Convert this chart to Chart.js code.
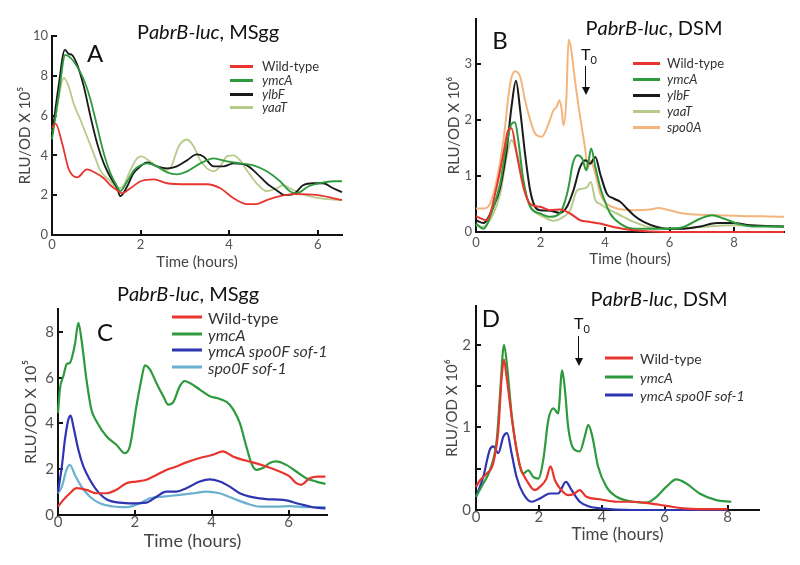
<!DOCTYPE html>
<html>
<head>
<meta charset="utf-8">
<script src="https://cdn.jsdelivr.net/npm/chart.js@4.4.1/dist/chart.umd.min.js"></script>
<style>
  html, body { margin: 0; padding: 0; background: #fff; }
  #fig { position: relative; width: 800px; height: 565px; overflow: hidden; font-family: Lato, 'Open Sans', sans-serif; }
  canvas { position: absolute; }
  .txt { position: absolute; white-space: nowrap; transform: translate(-50%, -50%); color: #111; }
  .row { position: absolute; white-space: nowrap; display: flex; align-items: center; transform: translateY(-50%); color: #333; }
  .sw { display: inline-block; height: 3px; }
  .arrow { position: absolute; width: 0; border-left: 1.6px solid #111; }
  .head { position: absolute; width: 0; height: 0; border-left: 4px solid transparent; border-right: 4px solid transparent; border-top: 8px solid #111; }
</style>
</head>
<body>
<div id="fig">
  <canvas id="cA" width="400" height="280" style="left:0;top:0"></canvas>
  <canvas id="cB" width="400" height="280" style="left:400px;top:0"></canvas>
  <canvas id="cC" width="400" height="285" style="left:0;top:280px"></canvas>
  <canvas id="cD" width="400" height="285" style="left:400px;top:280px"></canvas>
</div>
<script>
// ── colours ──────────────────────────────────────────────────────────────────
const RED = '#e8352e', GREEN = '#2e9a3e', BLACK = '#1a1a1a', OLIVE = '#b7cc8c',
      PEACH = '#f4b57c', BLUE = '#2f35b0', LBLUE = '#6bb0cf';

// ── Panel A: PabrB-luc, MSgg ─────────────────────────────────────────────────
const A_T_WT = [0, 0.08, 0.23, 0.38, 0.57, 0.79, 1.0, 1.17, 1.32, 1.47, 1.58, 1.77, 2.0, 2.3, 2.6, 3.05, 3.5, 3.8, 4.1, 4.4, 4.6, 4.85, 5.15, 5.45, 6.0, 6.55];
const A_WT   = [5.4, 5.6, 4.6, 3.3, 2.9, 3.3, 3.1, 2.85, 2.5, 2.25, 2.1, 2.35, 2.7, 2.8, 2.6, 2.55, 2.55, 2.35, 1.85, 1.55, 1.55, 1.75, 1.95, 2.05, 2.0, 1.75];
const A_T_YMCA = [0, 0.15, 0.3, 0.42, 0.57, 0.72, 0.87, 1.02, 1.17, 1.32, 1.47, 1.54, 1.7, 1.85, 2.0, 2.15, 2.37, 2.6, 2.82, 3.05, 3.35, 3.65, 3.95, 4.25, 4.55, 4.85, 5.15, 5.37, 5.52, 5.8, 6.05, 6.35, 6.55];
const A_YMCA   = [4.8, 7.0, 9.05, 8.9, 8.45, 7.8, 6.8, 5.45, 4.1, 3.1, 2.45, 2.2, 2.7, 3.25, 3.5, 3.6, 3.45, 3.15, 3.05, 3.2, 3.6, 3.85, 3.7, 3.6, 3.5, 3.2, 2.7, 2.2, 2.1, 2.45, 2.6, 2.7, 2.7];
const A_T_YLBF = [0, 0.15, 0.29, 0.38, 0.45, 0.57, 0.72, 0.87, 1.02, 1.17, 1.32, 1.47, 1.54, 1.7, 1.84, 2.0, 2.15, 2.37, 2.6, 2.82, 3.05, 3.27, 3.42, 3.65, 3.87, 4.1, 4.4, 4.62, 4.85, 5.07, 5.26, 5.45, 5.67, 5.9, 6.12, 6.35, 6.55];
const A_YLBF   = [5.0, 7.5, 9.3, 9.1, 9.05, 8.55, 7.45, 5.95, 4.6, 3.6, 2.9, 2.35, 1.95, 2.45, 3.1, 3.45, 3.65, 3.45, 3.35, 3.45, 3.75, 4.05, 3.95, 3.45, 3.45, 3.6, 3.5, 3.1, 2.6, 2.25, 2.0, 2.05, 2.5, 2.6, 2.6, 2.35, 2.15];
const A_T_YAAT = [0, 0.05, 0.27, 0.38, 0.49, 0.64, 0.79, 0.94, 1.09, 1.32, 1.5, 1.62, 1.77, 1.92, 2.03, 2.18, 2.37, 2.52, 2.67, 2.86, 3.05, 3.2, 3.35, 3.5, 3.65, 3.8, 3.95, 4.1, 4.25, 4.4, 4.62, 4.85, 5.07, 5.22, 5.37, 5.6, 5.9, 6.2, 6.55];
const A_YAAT   = [5.2, 5.6, 7.9, 7.45, 6.6, 5.8, 4.95, 4.1, 3.25, 2.7, 2.35, 2.5, 3.25, 3.85, 3.95, 3.75, 3.45, 3.25, 3.35, 4.45, 4.8, 4.45, 3.75, 3.35, 3.2, 3.45, 3.95, 4.0, 3.75, 3.25, 2.6, 2.2, 2.35, 2.5, 2.35, 2.1, 1.9, 1.8, 1.75];
const A_X_TICKS = [0, 2, 4, 6];
const A_Y_TICKS = [0, 2, 4, 6, 8, 10];

// ── Panel B: PabrB-luc, DSM ──────────────────────────────────────────────────
const B_T_WT = [0, 0.33, 0.64, 0.85, 1.0, 1.1, 1.26, 1.47, 1.68, 1.99, 2.3, 2.6, 2.92, 3.23, 3.54, 3.85, 4.26, 4.89, 5.9, 9.55];
const B_WT   = [0.28, 0.21, 0.8, 1.4, 1.82, 1.85, 1.4, 0.8, 0.5, 0.45, 0.39, 0.4, 0.33, 0.21, 0.18, 0.15, 0.09, 0.03, 0.0, 0.0];
const B_T_YMCA = [0, 0.23, 0.54, 0.75, 0.95, 1.1, 1.21, 1.31, 1.47, 1.68, 1.99, 2.3, 2.6, 2.76, 2.87, 3.0, 3.15, 3.3, 3.42, 3.5, 3.57, 3.7, 3.85, 3.95, 4.16, 4.47, 4.89, 5.92, 6.44, 6.96, 7.32, 7.68, 8.1, 8.6, 9.55];
const B_YMCA   = [0.15, 0.06, 0.45, 0.86, 1.58, 1.93, 1.96, 1.64, 0.92, 0.45, 0.33, 0.27, 0.33, 0.55, 0.8, 1.22, 1.37, 1.3, 1.1, 1.3, 1.49, 1.16, 0.8, 0.62, 0.33, 0.15, 0.06, 0.06, 0.09, 0.24, 0.3, 0.24, 0.15, 0.1, 0.1];
const B_T_YLBF = [0, 0.23, 0.54, 0.75, 0.95, 1.1, 1.24, 1.37, 1.52, 1.68, 1.83, 1.99, 2.3, 2.6, 2.82, 3.02, 3.23, 3.39, 3.54, 3.7, 3.85, 4.06, 4.26, 4.47, 4.68, 4.89, 5.2, 5.61, 5.92, 6.44, 6.96, 7.47, 7.99, 8.5, 9.55];
const B_YLBF   = [0.21, 0.16, 0.45, 0.8, 1.46, 2.23, 2.7, 2.17, 1.4, 0.74, 0.45, 0.39, 0.38, 0.34, 0.45, 0.74, 1.16, 1.28, 1.22, 1.34, 1.04, 0.68, 0.6, 0.54, 0.42, 0.3, 0.18, 0.09, 0.06, 0.06, 0.1, 0.16, 0.16, 0.12, 0.1];
const B_T_YAAT = [0, 0.23, 0.54, 0.75, 0.95, 1.1, 1.21, 1.37, 1.57, 1.78, 2.09, 2.4, 2.71, 2.92, 3.13, 3.28, 3.44, 3.56, 3.7, 3.85, 4.06, 4.37, 4.89, 5.5, 5.92, 6.96, 7.99, 9.55];
const B_YAAT   = [0.12, 0.09, 0.33, 0.68, 1.34, 1.64, 1.52, 1.16, 0.62, 0.39, 0.27, 0.2, 0.27, 0.39, 0.74, 0.77, 0.8, 0.89, 0.57, 0.5, 0.42, 0.33, 0.18, 0.07, 0.06, 0.09, 0.12, 0.1];
const B_T_SPO0A = [0, 0.23, 0.43, 0.64, 0.85, 1.06, 1.21, 1.37, 1.52, 1.68, 1.83, 2.04, 2.25, 2.4, 2.5, 2.59, 2.66, 2.71, 2.8, 2.87, 2.94, 3.07, 3.23, 3.39, 3.46, 3.54, 3.7, 3.85, 4.06, 4.37, 4.89, 5.4, 5.66, 5.92, 6.44, 7.47, 9.55];
const B_SPO0A   = [0.42, 0.42, 0.5, 0.92, 1.64, 2.65, 2.87, 2.77, 2.35, 2.0, 1.76, 1.7, 1.93, 2.17, 2.23, 2.35, 2.17, 1.9, 2.35, 3.43, 3.3, 2.7, 2.05, 1.46, 1.13, 1.28, 1.04, 0.68, 0.5, 0.42, 0.39, 0.4, 0.43, 0.4, 0.33, 0.3, 0.27];
const B_X_TICKS = [0, 2, 4, 6, 8];
const B_Y_TICKS = [0, 1, 2, 3];

// ── Panel C: PabrB-luc, MSgg ─────────────────────────────────────────────────
const C_T_WT = [0, 0.14, 0.31, 0.48, 0.74, 1.0, 1.26, 1.52, 1.78, 2.04, 2.3, 2.56, 2.82, 3.08, 3.34, 3.69, 4.03, 4.29, 4.55, 4.81, 5.07, 5.42, 5.77, 6.03, 6.2, 6.33, 6.55, 6.76, 6.96];
const C_WT   = [0.37, 0.66, 0.95, 1.17, 1.1, 0.95, 0.95, 1.1, 1.39, 1.46, 1.54, 1.75, 1.97, 2.12, 2.3, 2.49, 2.63, 2.78, 2.56, 2.41, 2.3, 2.12, 1.9, 1.68, 1.39, 1.32, 1.61, 1.68, 1.68];
const C_T_YMCA = [0, 0.05, 0.14, 0.23, 0.31, 0.44, 0.53, 0.61, 0.74, 0.87, 1.0, 1.26, 1.52, 1.74, 1.87, 2.04, 2.17, 2.26, 2.39, 2.56, 2.74, 2.87, 3.0, 3.17, 3.3, 3.43, 3.69, 3.95, 4.21, 4.47, 4.73, 4.9, 5.03, 5.16, 5.33, 5.51, 5.68, 5.94, 6.2, 6.46, 6.72, 6.96];
const C_YMCA   = [4.46, 5.5, 6.07, 6.6, 6.65, 7.46, 8.4, 7.68, 5.92, 4.6, 4.1, 3.44, 3.07, 2.7, 3.0, 4.75, 5.92, 6.54, 6.36, 5.77, 5.19, 4.82, 4.93, 5.63, 5.85, 5.77, 5.48, 5.19, 5.07, 4.82, 4.02, 3.0, 2.27, 1.97, 2.05, 2.27, 2.34, 2.19, 1.9, 1.61, 1.46, 1.36];
const C_T_DBL = [0, 0.1, 0.18, 0.27, 0.33, 0.4, 0.53, 0.66, 0.83, 1.0, 1.26, 1.61, 1.96, 2.3, 2.56, 2.82, 3.08, 3.34, 3.69, 3.95, 4.21, 4.47, 4.73, 4.99, 5.42, 5.85, 6.29, 6.63, 6.96];
const C_DBL   = [1.0, 2.12, 3.29, 4.17, 4.34, 3.87, 2.85, 2.12, 1.54, 1.1, 0.69, 0.54, 0.51, 0.54, 0.8, 1.02, 1.02, 1.17, 1.46, 1.56, 1.46, 1.24, 0.95, 0.8, 0.69, 0.66, 0.48, 0.34, 0.29];
const C_T_SPO0F = [0, 0.1, 0.22, 0.31, 0.44, 0.61, 0.83, 1.09, 1.44, 1.78, 2.13, 2.39, 2.74, 3.17, 3.52, 3.86, 4.21, 4.55, 4.9, 5.25, 5.68, 6.03, 6.46, 6.96];
const C_SPO0F   = [0.95, 1.24, 1.97, 2.19, 1.75, 1.24, 0.8, 0.51, 0.37, 0.34, 0.51, 0.73, 0.8, 0.88, 0.95, 1.02, 0.95, 0.73, 0.51, 0.37, 0.37, 0.39, 0.34, 0.34];
const C_X_TICKS = [0, 2, 4, 6];
const C_Y_TICKS = [0, 2, 4, 6, 8];

// ── Panel D: PabrB-luc, DSM ──────────────────────────────────────────────────
const D_T_WT = [0, 0.13, 0.34, 0.55, 0.71, 0.81, 0.89, 0.97, 1.08, 1.19, 1.4, 1.61, 1.87, 2.03, 2.24, 2.37, 2.51, 2.72, 2.93, 3.09, 3.3, 3.51, 3.94, 4.47, 4.99, 5.52, 6.05, 6.58, 7.1, 8.0];
const D_WT   = [0.28, 0.36, 0.44, 0.57, 0.97, 1.58, 1.82, 1.62, 1.29, 0.97, 0.53, 0.36, 0.24, 0.28, 0.38, 0.53, 0.36, 0.24, 0.18, 0.19, 0.24, 0.16, 0.13, 0.1, 0.1, 0.08, 0.05, 0.02, 0.01, 0.01];
const D_T_YMCA = [0, 0.23, 0.44, 0.66, 0.76, 0.89, 0.99, 1.13, 1.29, 1.5, 1.66, 1.82, 1.98, 2.14, 2.3, 2.46, 2.61, 2.74, 2.83, 2.93, 3.09, 3.3, 3.46, 3.57, 3.7, 3.88, 4.15, 4.47, 4.99, 5.42, 5.74, 6.05, 6.37, 6.69, 7.11, 7.64, 8.12];
const D_YMCA   = [0.16, 0.32, 0.48, 0.85, 1.37, 2.0, 1.74, 1.17, 0.73, 0.44, 0.48, 0.4, 0.38, 0.61, 1.09, 1.23, 1.17, 1.69, 1.45, 1.01, 0.75, 0.71, 0.89, 1.03, 0.89, 0.53, 0.28, 0.16, 0.1, 0.09, 0.16, 0.28, 0.37, 0.32, 0.2, 0.12, 0.1];
const D_T_DBL = [0, 0.23, 0.44, 0.55, 0.71, 0.87, 0.99, 1.13, 1.29, 1.5, 1.77, 2.03, 2.35, 2.61, 2.86, 3.04, 3.3, 3.62, 3.94, 4.99, 8.0];
const D_DBL   = [0.16, 0.4, 0.73, 0.77, 0.69, 0.89, 0.93, 0.69, 0.4, 0.2, 0.1, 0.14, 0.2, 0.2, 0.34, 0.24, 0.1, 0.04, 0.02, 0.0, 0.0];
const D_X_TICKS = [0, 2, 4, 6, 8];
const D_Y_TICKS = [0, 0.5, 1, 1.5, 2];

// ── build one panel ──────────────────────────────────────────────────────────
Chart.defaults.font.family = "Lato, 'Open Sans', sans-serif";

function makePanel(id, p) {
  const datasets = p.series.map(s => ({
    label: s.label,
    data: s.t.map((x, i) => ({ x, y: s.v[i] })),
    borderColor: s.color,
    borderWidth: p.lw,
    pointRadius: 0,
    fill: false,
    cubicInterpolationMode: 'monotone',
    clip: 6,
  }));
  const axisCommon = {
    type: 'linear',
    border: { color: '#111', width: 2 },
    grid: { drawOnChartArea: false, color: '#111', lineWidth: 2, tickLength: -5 },
  };
  return new Chart(document.getElementById(id), {
    type: 'line',
    data: { datasets },
    options: {
      responsive: false,
      animation: false,
      events: [],
      layout: { padding: p.pad },
      plugins: { legend: { display: false }, tooltip: { enabled: false } },
      scales: {
        x: {
          ...axisCommon,
          min: 0, max: p.xMax,
          ticks: { color: '#555', font: { size: p.tick }, padding: p.xTickPad, maxRotation: 0 },
          afterBuildTicks: s => { s.ticks = p.xTicks.map(v => ({ value: v })); },
          afterFit: s => { s.height = p.xH; },
          title: { display: true, text: 'Time (hours)', color: '#444', font: { size: p.xTitle }, padding: 0 },
        },
        y: {
          ...axisCommon,
          min: 0, max: p.yMax,
          ticks: {
            color: '#555', font: { size: p.tick }, padding: p.yTickPad,
            callback: v => (Number.isInteger(v) ? v : ''),
          },
          afterBuildTicks: s => { s.ticks = p.yTicks.map(v => ({ value: v })); },
          afterFit: s => { s.width = p.yW; },
          title: { display: true, text: p.yLabel, color: '#444', font: { size: p.yTitle }, padding: { top: p.yTitlePad, bottom: 0 } },
        },
      },
    },
  });
}

makePanel('cA', {
  lw: 1.8, xMax: 6.55, yMax: 10, xTicks: A_X_TICKS, yTicks: A_Y_TICKS,
  pad: { left: 12, top: 36, right: 58, bottom: 9 }, yW: 40, xH: 36,
  tick: 13, xTickPad: 7, yTickPad: 9, xTitle: 15, yTitle: 15, yTitlePad: 4,
  yLabel: 'RLU/OD X 10\u2075',
  series: [
    { label: 'Wild-type', t: A_T_WT, v: A_WT, color: RED },
    { label: 'ymcA', t: A_T_YMCA, v: A_YMCA, color: GREEN },
    { label: 'ylbF', t: A_T_YLBF, v: A_YLBF, color: BLACK },
    { label: 'yaaT', t: A_T_YAAT, v: A_YAAT, color: OLIVE },
  ],
});

makePanel('cB', {
  lw: 2, xMax: 9.55, yMax: 3.8, xTicks: B_X_TICKS, yTicks: B_Y_TICKS,
  pad: { left: 36, top: 19, right: 16, bottom: 12 }, yW: 40, xH: 36,
  tick: 13, xTickPad: 8, yTickPad: 9, xTitle: 15, yTitle: 15, yTitlePad: 9,
  yLabel: 'RLU/OD X 10\u2076',
  series: [
    { label: 'Wild-type', t: B_T_WT, v: B_WT, color: RED },
    { label: 'ymcA', t: B_T_YMCA, v: B_YMCA, color: GREEN },
    { label: 'ylbF', t: B_T_YLBF, v: B_YLBF, color: BLACK },
    { label: 'yaaT', t: B_T_YAAT, v: B_YAAT, color: OLIVE },
    { label: 'spo0A', t: B_T_SPO0A, v: B_SPO0A, color: PEACH },
  ],
});

makePanel('cC', {
  lw: 2.2, xMax: 7, yMax: 9, xTicks: C_X_TICKS, yTicks: C_Y_TICKS,
  pad: { left: 14, top: 29, right: 73, bottom: 13 }, yW: 44, xH: 37,
  tick: 15, xTickPad: 3, yTickPad: 9, xTitle: 18, yTitle: 16, yTitlePad: 7,
  yLabel: 'RLU/OD X 10\u2075',
  series: [
    { label: 'Wild-type', t: C_T_WT, v: C_WT, color: RED },
    { label: 'ymcA', t: C_T_YMCA, v: C_YMCA, color: GREEN },
    { label: 'ymcA spo0F sof-1', t: C_T_DBL, v: C_DBL, color: BLUE },
    { label: 'spo0F sof-1', t: C_T_SPO0F, v: C_SPO0F, color: LBLUE },
  ],
});

makePanel('cD', {
  lw: 2.2, xMax: 9, yMax: 2.47, xTicks: D_X_TICKS, yTicks: D_Y_TICKS,
  pad: { left: 36, top: 26, right: 41, bottom: 20 }, yW: 40, xH: 35,
  tick: 15, xTickPad: 3, yTickPad: 10, xTitle: 17, yTitle: 15, yTitlePad: 7,
  yLabel: 'RLU/OD X 10\u2076',
  series: [
    { label: 'Wild-type', t: D_T_WT, v: D_WT, color: RED },
    { label: 'ymcA', t: D_T_YMCA, v: D_YMCA, color: GREEN },
    { label: 'ymcA spo0F sof-1', t: D_T_DBL, v: D_DBL, color: BLUE },
  ],
});

// ── text overlays: titles, panel letters, legends, T0 arrows ──────────────────
const fig = document.getElementById('fig');
function addText(html, x, y, size, extra) {
  const d = document.createElement('div');
  d.className = 'txt';
  d.style.left = x + 'px';
  d.style.top = y + 'px';
  d.style.fontSize = size + 'px';
  if (extra) Object.assign(d.style, extra);
  d.innerHTML = html;
  fig.appendChild(d);
}
function addLegend(labels, colors, left, rows, swW, gap, size) {
  labels.forEach((lab, i) => {
    const r = document.createElement('div');
    r.className = 'row';
    r.style.left = left + 'px';
    r.style.top = rows[i] + 'px';
    r.style.fontSize = size + 'px';
    const txt = lab === 'Wild-type' ? lab : '<i>' + lab + '</i>';
    r.innerHTML = `<span class="sw" style="width:${swW}px;background:${colors[i]};margin-right:${gap}px"></span>${txt}`;
    fig.appendChild(r);
  });
}
function addArrow(x, y0, y1) {
  const a = document.createElement('div');
  a.className = 'arrow';
  a.style.left = (x - 0.8) + 'px';
  a.style.top = y0 + 'px';
  a.style.height = (y1 - y0 - 6) + 'px';
  fig.appendChild(a);
  const h = document.createElement('div');
  h.className = 'head';
  h.style.left = (x - 4) + 'px';
  h.style.top = (y1 - 8) + 'px';
  fig.appendChild(h);
}

const TITLE_MSGG = 'P<i>abrB-luc</i>, MSgg';
const TITLE_DSM = 'P<i>abrB-luc</i>, DSM';
addText(TITLE_MSGG, 208, 31, 20);
addText(TITLE_DSM, 654, 27, 20);
addText(TITLE_MSGG, 188, 293, 20);
addText(TITLE_DSM, 659, 298, 20);

addText('A', 95, 52, 24);
addText('B', 500, 39, 24);
addText('C', 105, 331, 24);
addText('D', 491, 317, 24);

addText('T<sub style="font-size:11px">0</sub>', 589, 55, 16);
addArrow(586, 66, 95);
addText('T<sub style="font-size:11px">0</sub>', 582, 324, 16);
addArrow(579, 336, 366);

addLegend(['Wild-type', 'ymcA', 'ylbF', 'yaaT'], [RED, GREEN, BLACK, OLIVE], 230, [66, 80, 94, 107], 23, 9, 13);
addLegend(['Wild-type', 'ymcA', 'ylbF', 'yaaT', 'spo0A'], [RED, GREEN, BLACK, OLIVE, PEACH], 633, [63, 79, 95, 111, 127], 27, 7, 13);
addLegend(['Wild-type', 'ymcA', 'ymcA spo0F sof-1', 'spo0F sof-1'], [RED, GREEN, BLUE, LBLUE], 172, [317, 334, 350, 367], 30, 6, 16);
addLegend(['Wild-type', 'ymcA', 'ymcA spo0F sof-1'], [RED, GREEN, BLUE], 605, [358, 377, 395], 28, 7, 14);
</script>
</body>
</html>
